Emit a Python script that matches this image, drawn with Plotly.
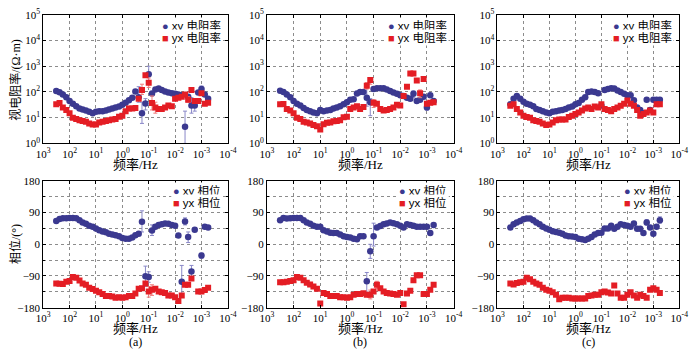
import plotly.graph_objects as go

# ---------------- data ----------------
freq = [320, 240, 180, 133, 100, 75, 56, 42, 32, 24, 18, 13.3, 10, 7.5, 5.6, 4.2,
        3.2, 2.4, 1.8, 1.33, 1.0, 0.75, 0.56, 0.42, 0.32, 0.24, 0.18, 0.133, 0.1,
        0.075, 0.056, 0.042, 0.032, 0.024, 0.018, 0.0133, 0.01, 0.0075, 0.0056,
        0.0042, 0.0032, 0.0024, 0.0018, 0.00133, 0.001, 0.00075, 0.00056]

# panel (a)
xy_rho_a = [110, 97, 80, 62, 45, 35, 28, 23, 21, 19, 17, 15, 17, 18, 18, 19, 21, 23, 25, 27,
            32, 38, 48, 60, 105, 62, 15, 36, 490, 88, 125, 135, 120, 105, 95, 90, 85, 80, 75,
            4.5, 65, 30, 30, 95, 130, 80, 55]
yx_rho_a = [33, 37, 25, 20, 15, 10, 9, 8, 7.5, 7, 6, 5.5, 5.5, 6.5, 7, 7.5, 8, 8.5, 9, 11,
            12, 18, 23, 23, 24, 55, 120, 450, 230, 37, 25, 22, 22, 25, 30, 28, 55, 60, 65,
            80, 50, 120, 45, 45, 90, 35, 38]
xy_ph_a = [66, 72, 74, 74, 75, 75, 74, 68, 62, 58, 53, 50, 45, 40, 36, 34, 30, 28, 26, 23,
           18, 16, 16, 19, 26, 30, 64, -91, -93, 39, 50, 55, 57, 59, 58, 55, 53, 25, -106,
           65, 21, -77, 41, None, -32, 50, 48]
yx_ph_a = [-111, -112, -113, -106, -104, -93, -95, -103, -111, -115, -123, -127, -132, -136,
           -141, -147, -147, -148, -152, -150, -152, -150, -147, -147, -140, -126, -125, -111,
           -134, -129, -126, -134, -136, -138, -145, -145, -150, -161, -145, -115, -115, -97,
           None, -134, -134, -130, -123]

# panel (b)
xy_rho_b = [112, 100, 80, 62, 45, 35, 30, 24, 20, 18, 16, 15, 20, 18, 19, 20, 23, 25, 28, 33,
            40, 50, 52, 88, 100, 100, 60, 40, 130, 140, 140, 140, 125, 110, 95, 85, 75, 70, 60,
            55, 85, 45, 50, 65, 25, 75, 45]
yx_rho_b = [33, 34, 22, 19, 15, 10, 9, 7, 6.5, 6, 5.2, 4.7, 3.5, 5.6, 6.3, 6.5, 7.3, 7.5, 8,
            10.5, 11, 22, 25, 28, 22, 26, 175, 290, 38, 35, 22, 19, 20, 22, 25, 32, 30, 70,
            160, 520, 520, 280, 90, 316, 35, 38, 40]
xy_ph_b = [68, 75, 73, 74, 75, 75, 75, 68, 62, 58, 53, 50, 50, 40, 36, 33, 32, 32, 28, 23,
           21, 19, 16, 14, 23, 23, -105, -20, 23, 48, 52, 57, 59, 62, 60, 57, 53, 48, 57, 55,
           53, 50, 50, 50, 50, 32, 55]
yx_ph_b = [-108, -108, -106, -104, -102, -93, -95, -102, -109, -114, -120, -126, -168, -138,
           -141, -147, -147, -147, -150, -150, -152, -150, -143, -141, -141, -139, -143, -143,
           -134, -115, -125, -134, -138, -140, -141, -143, -138, -170, -140, -132, -102, -88,
           -88, -141, -141, -129, -115]

# panel (c)
xy_rho_c = [33, 55, 70, 55, 42, 35, 32, 28, 22, 20, 18, 16, 15, 17, 18, 19, 20, 22, 25, 27,
            33, 37, 50, 62, 100, 105, 100, 90, 30, 120, 130, 140, 135, 115, 100, 85, 75, 75,
            48, 25, 20, 15, 50, 20, 50, 50, 50]
yx_rho_c = [29, 33, 22, 16, 12, 10.6, 10, 8, 7.5, 7, 6, 5.2, 5.5, 6.5, 8, 8.5, 8.5, 8.5, 10.6,
            12, 14, 16, 19, 23, 25, 22, 27, 25, 33, 22, 20, 18, 22, 25, 29, 35, 47, 35, 29, 20,
            12, 14, 16, 19, 16, 33, 33]
xy_ph_c = [48, 57, 62, 66, 71, 73, 73, 68, 62, 57, 50, 45, 41, 37, 35, 33, 30, 25, 23, 22,
           21, 16, 14, 12, 16, 21, 28, 32, 33, 45, 45, 53, 44, 50, 57, 55, 53, 50, 59, 44, 44,
           32, 62, 48, 30, 50, 68]
yx_ph_c = [-111, -114, -110, -108, -106, -95, -99, -106, -111, -115, -123, -129, -132, -136,
           -143, -156, -152, -152, -152, -154, -154, -154, -154, -154, -147, -145, -143, -143,
           -136, -134, -137, -140, -117, -140, -152, -152, -143, -136, -145, -152, -143, -147,
           -152, -129, -125, -129, -138]

# error-bar ranges (index: (low, high))
xy_rho_a_err = {25: (40, 160), 26: (6, 40), 27: (20, 55), 28: (200, 1000), 39: (1, 18),
                41: (15, 60), 42: (18, 45), 44: (90, 170)}
yx_rho_a_err = {26: (80, 200), 28: (150, 350), 29: (20, 70), 30: (15, 40), 40: (40, 65)}
xy_rho_b_err = {26: (28, 160), 27: (12, 55), 40: (60, 110), 44: (20, 35)}
yx_rho_b_err = {26: (130, 230), 27: (200, 350), 28: (25, 50), 42: (60, 120)}
xy_rho_c_err = {}
yx_rho_c_err = {}
xy_ph_a_err = {26: (35, 95), 27: (-120, -62), 28: (-108, -78), 29: (25, 55), 38: (-150, -60),
               39: (55, 75), 40: (5, 35), 41: (-100, -60), 44: (-40, -25)}
yx_ph_a_err = {28: (-150, -120), 29: (-145, -115)}
xy_ph_b_err = {26: (-140, -80), 27: (-40, 0), 28: (-5, 60)}
yx_ph_b_err = {27: (-155, -130), 29: (-125, -105)}
xy_ph_c_err = {42: (55, 70), 46: (60, 78)}
yx_ph_c_err = {}

x_tickvals = [1e3, 1e2, 1e1, 1e0, 1e-1, 1e-2, 1e-3, 1e-4]
x_ticktext = ["10<sup>3</sup>", "10<sup>2</sup>", "10<sup>1</sup>", "10<sup>0</sup>",
              "10<sup>-1</sup>", "10<sup>-2</sup>", "10<sup>-3</sup>", "10<sup>-4</sup>"]
rho_tickvals = [1, 10, 100, 1e3, 1e4, 1e5]
rho_ticktext = ["10<sup>0</sup>", "10<sup>1</sup>", "10<sup>2</sup>", "10<sup>3</sup>",
                "10<sup>4</sup>", "10<sup>5</sup>"]
ph_tickvals = [-180, -90, 0, 90, 180]
ph_ticktext = ["\u2212180", "\u221290", "0", "90", "180"]

panel_labels = ["(a)", "(b)", "(c)"]
legend_rho = ["xy 电阻率", "yx 电阻率"]
legend_ph = ["xy 相位", "yx 相位"]

# ---------------- styling ----------------
XY_COLOR = "#3b3990"
YX_COLOR = "#e41d24"
XY_ERR = "#8a88c8"
YX_ERR = "#f07a7a"
SERIF = "Liberation Serif, Noto Sans CJK SC"
SANS = "Liberation Sans, Noto Sans CJK SC"

x_domains = [[0.0529, 0.3229], [0.38, 0.6529], [0.7171, 0.9829]]
y_top = [0.6028, 0.9803]
y_bot = [0.1211, 0.4930]


def err(vals, bars):
    plus = [0.0] * len(vals)
    minus = [0.0] * len(vals)
    for i, (lo, hi) in bars.items():
        plus[i] = hi - vals[i]
        minus[i] = vals[i] - lo
    return plus, minus


def ann(text, xpx, ypx, size, family=SERIF, xanchor="center", **kw):
    return dict(text=text, x=xpx / 700, y=1 - ypx / 355, xref="paper", yref="paper",
                xanchor=xanchor, yanchor="middle", showarrow=False,
                font=dict(family=family, size=size, color="black"), **kw)


fig = go.Figure()

panels = [
    (xy_rho_a, yx_rho_a, xy_ph_a, yx_ph_a, xy_rho_a_err, yx_rho_a_err, xy_ph_a_err, yx_ph_a_err),
    (xy_rho_b, yx_rho_b, xy_ph_b, yx_ph_b, xy_rho_b_err, yx_rho_b_err, xy_ph_b_err, yx_ph_b_err),
    (xy_rho_c, yx_rho_c, xy_ph_c, yx_ph_c, xy_rho_c_err, yx_rho_c_err, xy_ph_c_err, yx_ph_c_err),
]

layout = dict()
annotations = []
for p, (xr, yr, xp, yp, xre, yre, xpe, ype) in enumerate(panels):
    top_idx = p + 1
    bot_idx = p + 4
    for idx, a, b, ae, be, kind in [(top_idx, xr, yr, xre, yre, "rho"),
                                    (bot_idx, xp, yp, xpe, ype, "ph")]:
        xa = "x" if idx == 1 else f"x{idx}"
        ya = "y" if idx == 1 else f"y{idx}"
        names = legend_rho if kind == "rho" else legend_ph
        ap, am = err(a, ae)
        bp, bm = err(b, be)
        fig.add_trace(go.Scatter(
            x=freq, y=a, mode="markers", name=names[0], xaxis=xa, yaxis=ya,
            marker=dict(symbol="circle", size=6.5, color=XY_COLOR),
            error_y=dict(type="data", symmetric=False, array=ap, arrayminus=am,
                         color=XY_ERR, thickness=1, width=2)))
        fig.add_trace(go.Scatter(
            x=freq, y=b, mode="markers", name=names[1], xaxis=xa, yaxis=ya,
            marker=dict(symbol="square", size=6, color=YX_COLOR),
            error_y=dict(type="data", symmetric=False, array=bp, arrayminus=bm,
                         color=YX_ERR, thickness=1, width=2)))

        xkey = "xaxis" if idx == 1 else f"xaxis{idx}"
        ykey = "yaxis" if idx == 1 else f"yaxis{idx}"
        common = dict(showline=True, linecolor="black", linewidth=1, mirror="ticks",
                      ticks="inside", ticklen=3, tickcolor="black",
                      showgrid=True, gridcolor="#8c8c8c", griddash="dot", gridwidth=1,
                      zeroline=False, tickfont=dict(family=SERIF, size=11, color="black"))
        layout[xkey] = dict(common, type="log", range=[3, -4], domain=x_domains[p],
                            anchor=ya, tickvals=x_tickvals, ticktext=x_ticktext)
        if kind == "rho":
            layout[ykey] = dict(common, type="log", range=[0, 5],
                                domain=y_top, anchor=xa,
                                tickvals=rho_tickvals, ticktext=rho_ticktext)
            ly = [18, 31]
        else:
            layout[ykey] = dict(common, range=[-180, 180], domain=y_bot, anchor=xa,
                                tickvals=ph_tickvals, ticktext=ph_ticktext,
                                minor=dict(tickvals=[-135, -45, 45, 135], showgrid=True,
                                           gridcolor="#8c8c8c", griddash="dot",
                                           ticks="inside", ticklen=2, tickcolor="black"))
            ly = [190, 203]
        # legend entries (marker glyph + label), top-right inside each panel
        xr_px = x_domains[p][1] * 700 - 5
        for k, (glyph, col) in enumerate([("●", XY_COLOR), ("■", YX_COLOR)]):
            annotations.append(ann(
                f'<span style="color:{col};font-size:11px">{glyph}</span> {names[k]}',
                xr_px, ly[k], 11.5, family=SANS, xanchor="right", bgcolor="white"))

    cx = (x_domains[p][0] + x_domains[p][1]) / 2 * 700
    annotations.append(ann("频率/Hz", cx, 163, 13))
    annotations.append(ann("频率/Hz", cx, 334, 13))
    annotations.append(ann(panel_labels[p], cx, 348, 12))

annotations.append(ann("视电阻率/(Ω·m)", 8, 75, 12, textangle=-90))
annotations.append(ann("相位/(°)", 8, 246, 12, textangle=-90))

fig.update_layout(**layout)
fig.update_layout(width=700, height=355, margin=dict(l=0, r=0, t=0, b=0),
                  paper_bgcolor="white", plot_bgcolor="white",
                  annotations=annotations, showlegend=False)

fig.write_html("out.html", config={"displayModeBar": False},
               post_script="document.body.style.margin='0px';"
                           "document.body.style.overflow='hidden';")
